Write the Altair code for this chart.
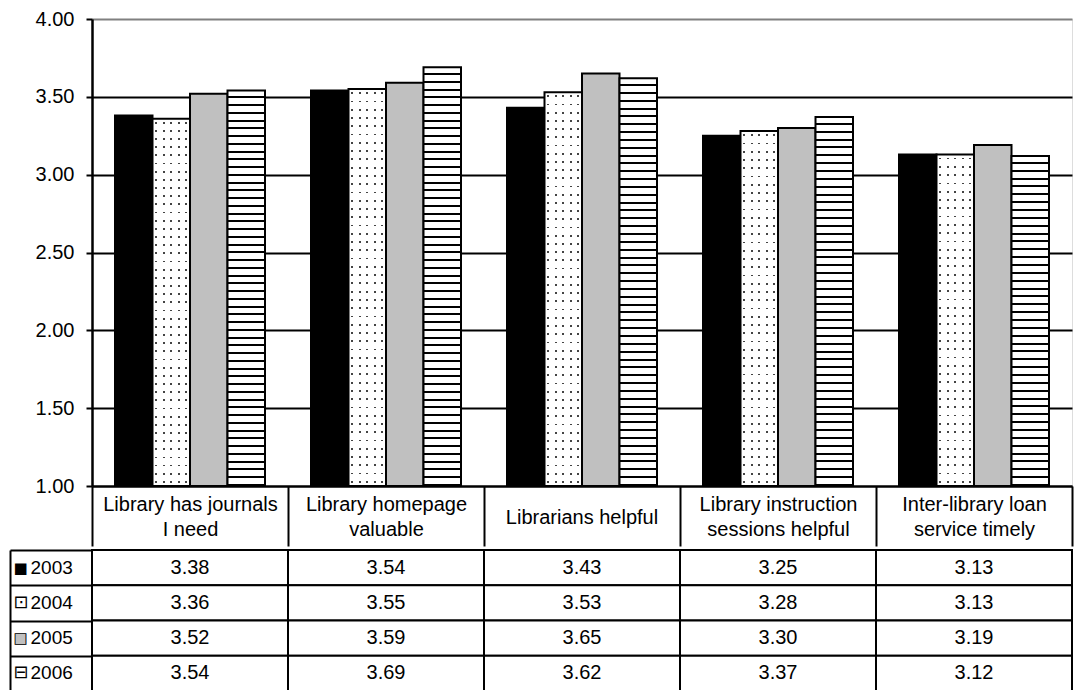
import altair as alt
import pandas as pd

# ---------------- data ----------------
categories = [
    "Library has journals|I need",
    "Library homepage|valuable",
    "Librarians helpful",
    "Library instruction|sessions helpful",
    "Inter-library loan|service timely",
]
years = ["2003", "2004", "2005", "2006"]
v2003 = [3.38, 3.54, 3.43, 3.25, 3.13]
v2004 = [3.36, 3.55, 3.53, 3.28, 3.13]
v2005 = [3.52, 3.59, 3.65, 3.30, 3.19]
v2006 = [3.54, 3.69, 3.62, 3.37, 3.12]
y_ticks = [1.0, 1.5, 2.0, 2.5, 3.0, 3.5, 4.0]
y_domain = [1.0, 4.0]

series = {"2003": v2003, "2004": v2004, "2005": v2005, "2006": v2006}
rows = []
for yr in years:
    for c, v in zip(categories, series[yr]):
        rows.append({"category": c, "year": yr, "value": v})
df = pd.DataFrame(rows)

# ---------------- layout / style ----------------
FONT = "Liberation Sans"
GLYPH_FONT = "DejaVu Sans"
W = 980          # plot width
H = 467          # bar plot height
HEADER_H = 60    # header row of the data table
TABLE_H = 141    # 4 data rows
LEGEND_W = 82    # legend column width
FS = 20
GRAY = "#c0c0c0"
CLEAR = "rgba(255,255,255,0)"
bar_w = 37.5
xoff_pad = (W / 5 / bar_w - 4) / 2


def px_height(v):
    return (v - y_domain[0]) / (y_domain[1] - y_domain[0]) * H


def stripe_gradient(h, spacing=7.8, thick=2.0):
    n = max(1, round(h / spacing))
    t = thick / h
    stops = []
    for i in range(n):
        a, b = i / n, (i + 1) / n
        stops += [alt.GradientStop(offset=a, color="white"),
                  alt.GradientStop(offset=b - t, color="white"),
                  alt.GradientStop(offset=b - t, color="black"),
                  alt.GradientStop(offset=b, color="black")]
    return alt.LinearGradient(gradient="linear", stops=stops, x1=0, x2=0, y1=0, y2=1)


def dot_columns(ncol=5, dot=1.8):
    d = dot / bar_w
    stops = [alt.GradientStop(offset=0, color="white")]
    for k in range(ncol):
        c = (k + 0.5) / ncol
        stops += [alt.GradientStop(offset=c - d / 2, color="white"),
                  alt.GradientStop(offset=c - d / 2, color="#444444"),
                  alt.GradientStop(offset=c + d / 2, color="#444444"),
                  alt.GradientStop(offset=c + d / 2, color="white")]
    stops.append(alt.GradientStop(offset=1, color="white"))
    return alt.LinearGradient(gradient="linear", stops=stops, x1=0, x2=1, y1=0, y2=0)


def dot_rows_mask(h, spacing=8.2, dot=1.8):
    n = max(1, round(h / spacing))
    d = dot / h
    stops = [alt.GradientStop(offset=0, color="white")]
    for i in range(n):
        c = (i + 0.5) / n
        stops += [alt.GradientStop(offset=c - d / 2, color="white"),
                  alt.GradientStop(offset=c - d / 2, color=CLEAR),
                  alt.GradientStop(offset=c + d / 2, color=CLEAR),
                  alt.GradientStop(offset=c + d / 2, color="white")]
    stops.append(alt.GradientStop(offset=1, color="white"))
    return alt.LinearGradient(gradient="linear", stops=stops, x1=0, x2=0, y1=0, y2=1)


# ---------------- bar chart ----------------
x_common = dict(title=None, orient="bottom", labelAngle=0, labelFont=FONT, labelFontSize=FS,
                labelColor="black", labelLineHeight=25, labelBaseline="middle",
                labelAlign="center", labelOverlap=False, labelLimit=400, grid=False,
                tickSize=HEADER_H, tickWidth=2, minExtent=HEADER_H, maxExtent=HEADER_H)
# header cell dividers + two-line header labels
x_axis_two = alt.Axis(
    labelExpr="indexof(datum.label, '|') >= 0 ? split(datum.label, '|') : ''",
    labelPadding=18.5 - HEADER_H,
    domain=True, domainColor="black", domainWidth=2,
    ticks=True, tickBand="extent", tickColor="black", **x_common)
# one-line header labels
x_axis_one = alt.Axis(
    labelExpr="indexof(datum.label, '|') >= 0 ? '' : datum.label",
    labelPadding=31 - HEADER_H,
    domain=False, ticks=True, tickColor="transparent", **x_common)

y_axis = alt.Axis(
    values=y_ticks, format=".2f", title=None,
    grid=True, gridWidth=2,
    gridColor={"condition": {"test": "datum.value == 4", "value": "#808080"}, "value": "black"},
    domain=True, domainColor="black", domainWidth=2.5,
    ticks=True, tickSize=6, tickWidth=2, tickColor="black",
    labelFont=FONT, labelFontSize=FS, labelColor="black", labelPadding=12,
)

x_scale = alt.Scale(domain=categories, paddingInner=0, paddingOuter=0)


def xenc(axis):
    return alt.X("category:N", sort=categories, scale=x_scale, axis=axis)


base = alt.Chart(df).encode(
    xOffset=alt.XOffset("year:N", scale=alt.Scale(domain=years, paddingInner=0, paddingOuter=xoff_pad)),
    y=alt.Y("value:Q", scale=alt.Scale(domain=y_domain, nice=False, zero=False), axis=y_axis),
    y2=alt.datum(y_domain[0]),
)

layers = []
layers.append(base.transform_filter("datum.year == '2003'").encode(x=xenc(x_axis_two))
              .mark_bar(fill="black", stroke="black", strokeWidth=2))
for c, v in zip(categories, v2004):
    h = px_height(v)
    sel = base.transform_filter(f"datum.year == '2004' && datum.category == '{c}'").encode(x=xenc(None))
    layers.append(sel.mark_bar(fill=dot_columns(), strokeWidth=0))
    layers.append(sel.mark_bar(fill=dot_rows_mask(h), stroke="black", strokeWidth=2))
layers.append(base.transform_filter("datum.year == '2005'").encode(x=xenc(x_axis_one))
              .mark_bar(fill=GRAY, stroke="black", strokeWidth=2))
for c, v in zip(categories, v2006):
    h = px_height(v)
    sel = base.transform_filter(f"datum.year == '2006' && datum.category == '{c}'").encode(x=xenc(None))
    layers.append(sel.mark_bar(fill=stripe_gradient(h), stroke="black", strokeWidth=2))

bars = alt.layer(*layers).resolve_axis(x="independent").properties(width=W, height=H)

# ---------------- data table ----------------
tx = alt.X("category:N", sort=categories, scale=x_scale, axis=None)
y_scale = alt.Scale(domain=years, paddingInner=0, paddingOuter=0)

common_axis = dict(orient="right", offset=-(W + LEGEND_W), title=None, grid=False,
                   tickSize=LEGEND_W, tickWidth=2, labelAlign="left", labelBaseline="middle",
                   labelOverlap=False)

# cell borders of the legend column
lines_axis = alt.Axis(domain=True, domainColor="black", domainWidth=2,
                      ticks=True, tickColor="black", tickBand="extent",
                      labels=False, **common_axis)
# filled swatches (2003 black, 2005 gray)
fill_axis = alt.Axis(domain=False, ticks=True, tickColor="transparent",
                     labelExpr="datum.value == '2003' || datum.value == '2005' ? '\u25A0' : ''",
                     labelColor={"condition": {"test": "datum.value == '2005'", "value": GRAY},
                                 "value": "black"},
                     labelFont=GLYPH_FONT, labelFontSize=15, labelPadding=-(LEGEND_W - 3),
                     **common_axis)
# outlined swatches
outline_axis = alt.Axis(domain=False, ticks=True, tickColor="transparent",
                        labelExpr=("datum.value == '2004' ? '\u22A1' : "
                                   "datum.value == '2005' ? '\u25A1' : "
                                   "datum.value == '2006' ? '\u229F' : ''"),
                        labelColor="black",
                        labelFont=GLYPH_FONT,
                        labelFontSize={"condition": {"test": "datum.value == '2005'", "value": 15},
                                       "value": 18},
                        labelPadding=-(LEGEND_W - 3),
                        **common_axis)
# year labels
year_axis = alt.Axis(domain=False, ticks=True, tickColor="transparent",
                     labelColor="black", labelFont=FONT, labelFontSize=19,
                     labelPadding=-(LEGEND_W - 20), **common_axis)

cell_mark = dict(fill="white", stroke="black", strokeWidth=2)
cells1 = alt.Chart(df).mark_rect(**cell_mark).encode(
    x=tx, y=alt.Y("year:N", sort=years, scale=y_scale, axis=lines_axis))
cells2 = alt.Chart(df).mark_rect(**cell_mark).encode(
    x=tx, y=alt.Y("year:N", sort=years, scale=y_scale, axis=fill_axis))
cells3 = alt.Chart(df).mark_rect(**cell_mark).encode(
    x=tx, y=alt.Y("year:N", sort=years, scale=y_scale, axis=outline_axis))
texts = alt.Chart(df).mark_text(font=FONT, fontSize=FS, color="black",
                                align="center", baseline="middle").encode(
    x=tx, y=alt.Y("year:N", sort=years, scale=y_scale, axis=year_axis),
    text=alt.Text("value:Q", format=".2f"))

table = (alt.layer(cells1, cells2, cells3, texts)
         .resolve_axis(y="independent")
         .properties(width=W, height=TABLE_H))

chart = (
    alt.vconcat(bars, table, spacing=0)
    .properties(padding=0)
    .configure_view(stroke=None)
    .configure(background="white")
)

chart.save("out.html", embed_options={"renderer": "svg", "actions": False})
